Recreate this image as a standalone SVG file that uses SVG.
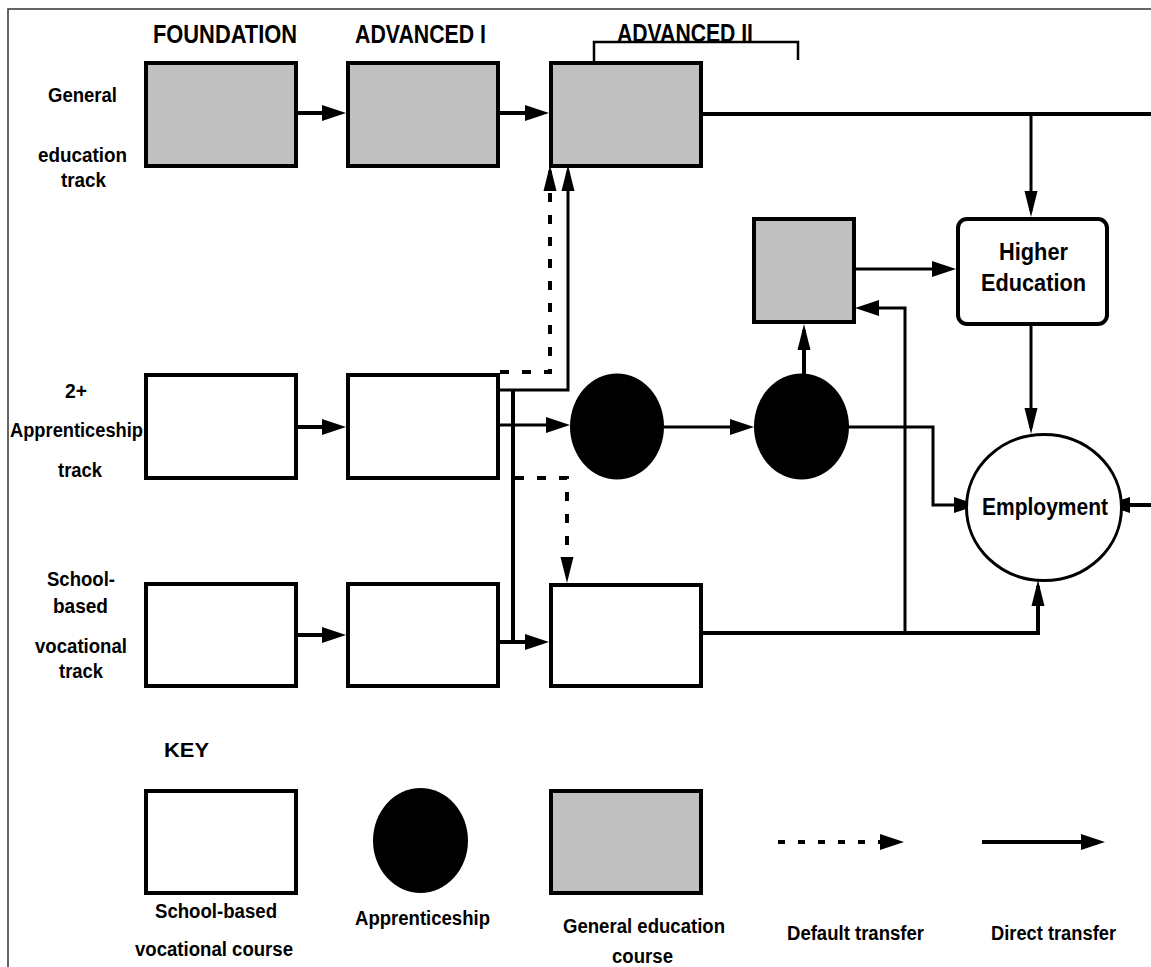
<svg xmlns="http://www.w3.org/2000/svg" width="1151" height="967" viewBox="0 0 1151 967">
<style>
.t{font-family:"Liberation Sans",Arial,sans-serif;font-weight:bold;fill:#000}
.h{font-size:25px}
.r{font-size:21px}
.n{font-size:23px}
.k{font-size:20px}
.wb{fill:#fff;stroke:#000;stroke-width:4}
.gb{fill:#c0c0c0;stroke:#000;stroke-width:4}
.ap{fill:#000;stroke:none}
.c{fill:none;stroke:#000}
.th{stroke-width:4}
.tn{stroke-width:3}
.d{stroke-dasharray:9 13}
.a{marker-end:url(#arr)}
.an{marker-end:url(#arrn)}
</style>
<defs>
<marker id="arr" markerUnits="userSpaceOnUse" markerWidth="24" markerHeight="16" refX="18" refY="8" orient="auto">
<path d="M0,0 L24,8 L0,16 z" fill="#000"/>
</marker>
<marker id="arrn" markerUnits="userSpaceOnUse" markerWidth="26" markerHeight="14" refX="20" refY="7" orient="auto">
<path d="M0,0.5 L26,7 L0,13.5 z" fill="#000"/>
</marker>
</defs>
<rect x="0" y="0" width="1151" height="967" fill="#fff"/>
<path d="M8,967 V9 H1151" fill="none" stroke="#333" stroke-width="1.5"/>

<g id="headers">
<text class="t h" x="153" y="43" textLength="144" lengthAdjust="spacingAndGlyphs">FOUNDATION</text>
<text class="t h" x="355" y="43" textLength="131" lengthAdjust="spacingAndGlyphs">ADVANCED I</text>
<text class="t h" x="617" y="42" textLength="136" lengthAdjust="spacingAndGlyphs">ADVANCED II</text>
<path d="M594,61 V42 H798 V60" fill="none" stroke="#000" stroke-width="2.5"/>
</g>

<g id="row-labels">
<text class="t r" x="48" y="102" textLength="69" lengthAdjust="spacingAndGlyphs">General</text>
<text class="t r" x="38" y="162" textLength="89" lengthAdjust="spacingAndGlyphs">education</text>
<text class="t r" x="61" y="187" textLength="45" lengthAdjust="spacingAndGlyphs">track</text>
<text class="t r" x="65" y="398" textLength="22" lengthAdjust="spacingAndGlyphs">2+</text>
<text class="t r" x="10" y="437" textLength="133" lengthAdjust="spacingAndGlyphs">Apprenticeship</text>
<text class="t r" x="58" y="477" textLength="44" lengthAdjust="spacingAndGlyphs">track</text>
<text class="t r" x="47" y="586" textLength="68" lengthAdjust="spacingAndGlyphs">School-</text>
<text class="t r" x="53" y="613" textLength="55" lengthAdjust="spacingAndGlyphs">based</text>
<text class="t r" x="35" y="653" textLength="92" lengthAdjust="spacingAndGlyphs">vocational</text>
<text class="t r" x="59" y="678" textLength="44" lengthAdjust="spacingAndGlyphs">track</text>
</g>

<g id="connectors">
<path class="c th a" d="M298,113 H340"/>
<path class="c th a" d="M500,113 H543"/>
<path class="c th" d="M703,114 H1151"/>
<path class="c tn an" d="M1031,114 V211"/>
<path class="c tn a" d="M856,269 H950"/>
<path class="c tn an" d="M1031,326 V428"/>
<path class="c th a" d="M1151,505 H1112"/>
<path class="c tn a" d="M849,427 H933 V505 H972"/>
<path class="c th an" d="M804,374 V330"/>
<path class="c th an" d="M703,633 H1038 V586"/>
<path class="c tn a" d="M905,633 V308 H861"/>
<path class="c th a" d="M298,427 H340"/>
<path class="c tn a" d="M500,425 H564"/>
<path class="c tn a" d="M664,427 H748"/>
<path class="c th a" d="M298,635 H340"/>
<path class="c th a" d="M500,642 H543"/>
<path class="c tn an" d="M500,390 H568 V171"/>
<path class="c th" d="M513,390 V642"/>
<path class="c th d an" d="M500,372 H550 V171"/>
<path class="c th d an" d="M515,478 H567 V577"/>
</g>

<g id="gen-foundation"><rect class="gb" x="146" y="63" width="150" height="103"/></g>
<g id="gen-advanced1"><rect class="gb" x="348" y="63" width="150" height="103"/></g>
<g id="gen-advanced2"><rect class="gb" x="551" y="63" width="150" height="103"/></g>

<g id="app-foundation"><rect class="wb" x="146" y="375" width="150" height="103"/></g>
<g id="app-advanced1"><rect class="wb" x="348" y="375" width="150" height="103"/></g>
<g id="app-1"><ellipse class="ap" cx="617" cy="426.5" rx="47" ry="53"/></g>
<g id="app-2"><ellipse class="ap" cx="801.5" cy="426.5" rx="47.5" ry="53"/></g>

<g id="voc-foundation"><rect class="wb" x="146" y="584" width="150" height="102"/></g>
<g id="voc-advanced1"><rect class="wb" x="348" y="584" width="150" height="102"/></g>
<g id="voc-advanced2"><rect class="wb" x="551" y="585" width="150" height="101"/></g>

<g id="gen-course-small"><rect class="gb" x="754" y="219" width="100" height="103"/></g>

<g id="higher-education">
<rect class="wb" x="958" y="219" width="149" height="105" rx="9"/>
<text class="t n" x="999" y="260" textLength="69" lengthAdjust="spacingAndGlyphs">Higher</text>
<text class="t n" x="981" y="291" textLength="105" lengthAdjust="spacingAndGlyphs">Education</text>
</g>

<g id="employment">
<ellipse cx="1044" cy="507.5" rx="77.5" ry="73" fill="#fff" stroke="#000" stroke-width="3"/>
<text class="t n" x="982" y="515" textLength="126" lengthAdjust="spacingAndGlyphs">Employment</text>
</g>

<g id="key">
<text class="t r" x="164" y="757" textLength="45" lengthAdjust="spacingAndGlyphs">KEY</text>
<g id="key-vocational">
<rect class="wb" x="146" y="791" width="150" height="102"/>
<text class="t k" x="155" y="918" textLength="122" lengthAdjust="spacingAndGlyphs">School-based</text>
<text class="t k" x="135" y="956" textLength="158" lengthAdjust="spacingAndGlyphs">vocational course</text>
</g>
<g id="key-apprenticeship">
<ellipse class="ap" cx="420.5" cy="840.5" rx="47.5" ry="52.5"/>
<text class="t k" x="355" y="925" textLength="135" lengthAdjust="spacingAndGlyphs">Apprenticeship</text>
</g>
<g id="key-general">
<rect class="gb" x="551" y="791" width="150" height="102"/>
<text class="t k" x="563" y="933" textLength="162" lengthAdjust="spacingAndGlyphs">General education</text>
<text class="t k" x="612" y="963" textLength="61" lengthAdjust="spacingAndGlyphs">course</text>
</g>
<g id="key-default">
<path class="c th a" d="M778,842 H898" stroke-dasharray="7 13"/>
<text class="t k" x="787" y="940" textLength="137" lengthAdjust="spacingAndGlyphs">Default transfer</text>
</g>
<g id="key-direct">
<path class="c th a" d="M982,842 H1099"/>
<text class="t k" x="991" y="940" textLength="125" lengthAdjust="spacingAndGlyphs">Direct transfer</text>
</g>
</g>
</svg>
